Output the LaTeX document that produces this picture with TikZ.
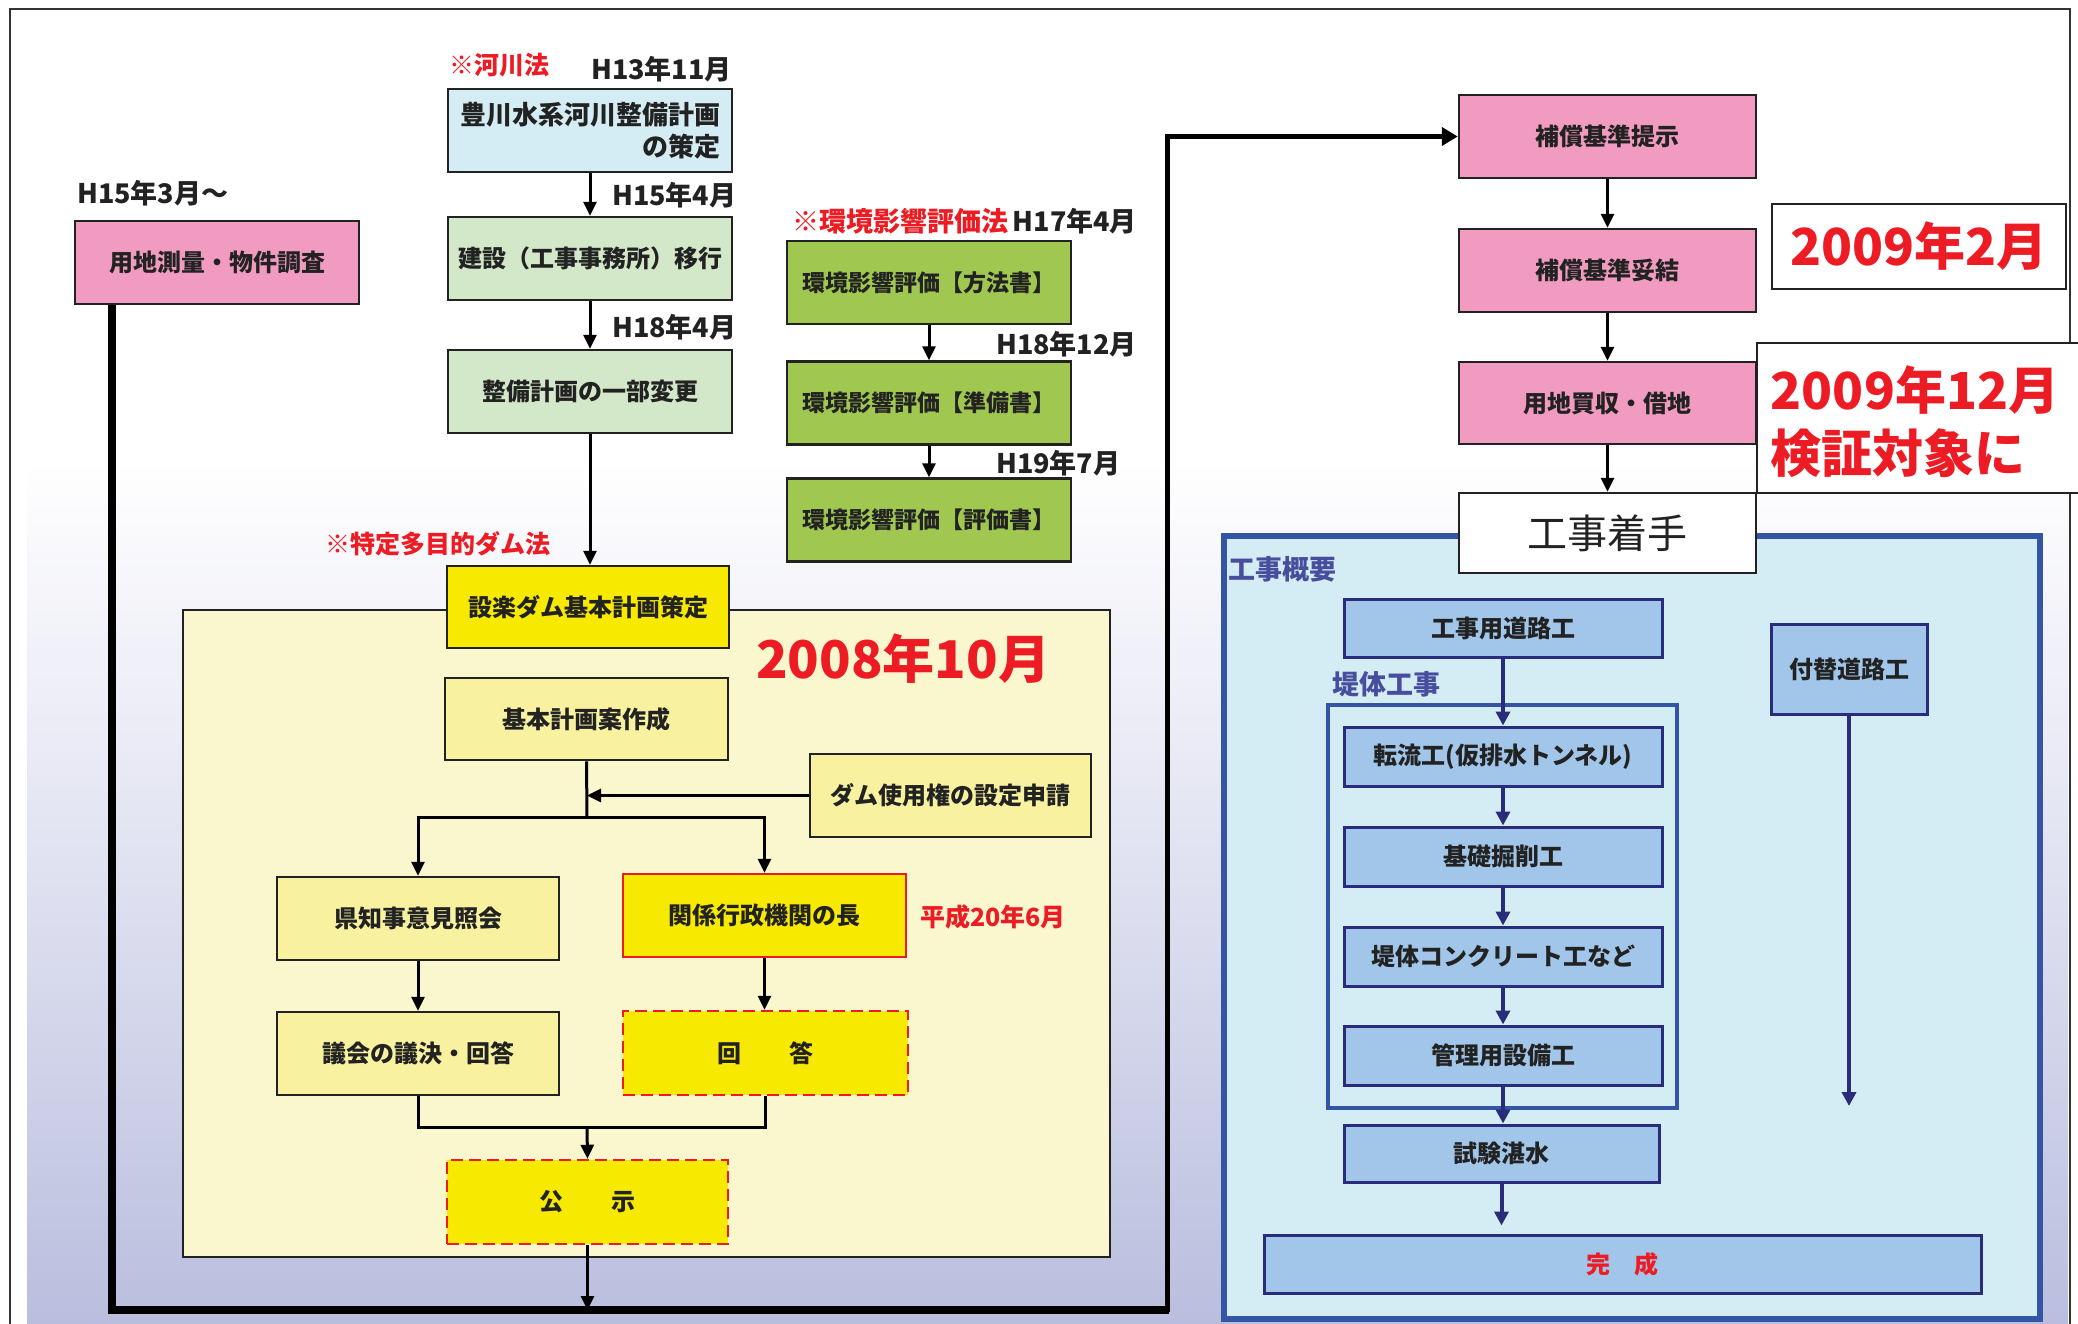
\documentclass[tikz,border=0pt]{standalone}
\usepackage{fontspec}
\setmainfont{Noto Sans CJK JP}
\usetikzlibrary{arrows.meta,calc}
\definecolor{pinkf}{RGB}{241,155,193}
\definecolor{ltblue}{RGB}{212,237,245}
\definecolor{ltgreen}{RGB}{211,232,200}
\definecolor{envgreen}{RGB}{160,200,80}
\definecolor{bigyellow}{RGB}{250,247,206}
\definecolor{paleyellow}{RGB}{248,242,160}
\definecolor{brightyellow}{RGB}{247,234,0}
\definecolor{boxbluebg}{RGB}{212,236,243}
\definecolor{frameblue}{RGB}{52,84,164}
\definecolor{taskblue}{RGB}{161,198,233}
\definecolor{navyc}{RGB}{40,44,122}
\definecolor{labelblue}{RGB}{72,78,158}
\definecolor{redc}{RGB}{237,28,36}
\definecolor{txt}{RGB}{34,34,34}
\definecolor{lav}{RGB}{186,190,222}
\definecolor{lavmid}{RGB}{222,224,240}
\begin{document}
\begin{tikzpicture}[x=1pt,y=-1pt,
  box/.style={draw=txt, line width=2.5pt, inner sep=0pt, align=center, text=txt,
    font=\bfseries\fontsize{24}{30}\selectfont},
  bluebox/.style={draw=navyc, line width=3pt, fill=taskblue, inner sep=0pt, align=center, text=txt,
    font=\bfseries\fontsize{24}{30}\selectfont, minimum width=318pt, minimum height=59pt},
  redbox/.style={box, draw=redc, line width=2.5pt},
  dashbox/.style={box, draw=redc, dash pattern=on 12pt off 6pt},
  datebox/.style={draw=txt, line width=2pt, fill=white, inner sep=0pt, text=redc, align=center,
    font=\bfseries\fontsize{51}{63}\selectfont},
  lbl/.style={inner sep=0pt, text=txt, font=\bfseries\fontsize{27}{30}\selectfont},
  redlbl/.style={inner sep=0pt, text=redc, font=\bfseries\fontsize{25}{30}\selectfont},
  bluelbl/.style={inner sep=0pt, text=labelblue, font=\bfseries\fontsize{27}{30}\selectfont},
  ln/.style={draw=black, line width=3pt},
  arr/.style={ln, -{Triangle[length=14pt,width=13pt]}},
  barr/.style={draw=navyc, line width=4pt, -{Triangle[length=14pt,width=14pt]}}
]
\useasboundingbox (0,0) rectangle (2078,1323);
\clip (0,0) rectangle (2078,1323);
\fill[white] (0,0) rectangle (2078,1323);
% water-like background
\shade[top color=white, bottom color=lav, middle color=lavmid] (27,460) rectangle (2068,1323);
% outer frame
\draw[draw=black!80, line width=2pt] (10,1340) -- (10,9) -- (2070,9) -- (2070,1340);

% ===== left column =====
\node[redlbl, anchor=west] (kasenlaw) at (449,65) {※河川法};
\node[lbl, anchor=east] (h1311) at (732,69) {H13年11月};
\node[box, fill=ltblue, minimum width=284pt, minimum height=83pt, align=right,
  font=\bfseries\fontsize{26}{32}\selectfont] (kasen) at (590,130.5) {豊川水系河川整備計画\\の策定};
\node[lbl, anchor=west] (h1504) at (612,195) {H15年4月};
\node[box, fill=ltgreen, minimum width=284pt, minimum height=83pt] (kensetsu) at (590,258.5) {建設（工事事務所）移行};
\node[lbl, anchor=west] (h1804) at (612,327) {H18年4月};
\node[box, fill=ltgreen, minimum width=284pt, minimum height=83pt] (henkou) at (590,391.5) {整備計画の一部変更};
\node[redlbl, anchor=east] (damlaw) at (551,544) {※特定多目的ダム法};

\node[lbl, anchor=west] (h1503) at (77,193) {H15年3月～};
\node[box, fill=pinkf, minimum width=284pt, minimum height=83pt] (youchi) at (217,262.5) {用地測量・物件調査};

% environment column
\node[lbl, anchor=west] (envlaw) at (792,221) {\textcolor{redc}{※環境影響評価法}\,H17年4月};
\node[box, fill=envgreen, minimum width=284pt, minimum height=83pt, font=\bfseries\fontsize{23}{28}\selectfont] (env1) at (929,282.5) {環境影響評価【方法書】};
\node[lbl, anchor=west] (h1812) at (996,344) {H18年12月};
\node[box, fill=envgreen, minimum width=284pt, minimum height=83pt, font=\bfseries\fontsize{23}{28}\selectfont] (env2) at (929,403) {環境影響評価【準備書】};
\node[lbl, anchor=west] (h1907) at (996,463) {H19年7月};
\node[box, fill=envgreen, minimum width=284pt, minimum height=83pt, font=\bfseries\fontsize{23}{28}\selectfont] (env3) at (929,520) {環境影響評価【評価書】};

% big yellow area
\node[draw=txt, line width=2pt, fill=bigyellow, minimum width=927pt, minimum height=647pt, inner sep=0pt] (bigY) at (646.5,933.5) {};
\node[box, fill=brightyellow, minimum width=282pt, minimum height=82pt] (shitara) at (588,607) {設楽ダム基本計画策定};
\node[inner sep=0pt, text=redc, font=\bfseries\fontsize{52}{60}\selectfont] (d200810) at (903,659) {2008年10月};
\node[box, fill=paleyellow, minimum width=283pt, minimum height=82pt] (kihon) at (586.5,719) {基本計画案作成};
\node[box, fill=paleyellow, minimum width=281pt, minimum height=83pt] (shinsei) at (950.5,795.5) {ダム使用権の設定申請};
\node[box, fill=paleyellow, minimum width=282pt, minimum height=83pt] (kenchiji) at (418,918.5) {県知事意見照会};
\node[redbox, fill=brightyellow, minimum width=283pt, minimum height=83pt] (kankei) at (764.5,915.5) {関係行政機関の長};
\node[redlbl, anchor=west] (h2006) at (920,917) {平成20年6月};
\node[box, fill=paleyellow, minimum width=282pt, minimum height=83pt] (gikai) at (418,1053.5) {議会の議決・回答};
\node[dashbox, fill=brightyellow, minimum width=285pt, minimum height=84pt] (kaitou) at (765.5,1053) {回　　答};
\node[dashbox, fill=brightyellow, minimum width=281pt, minimum height=84pt] (koji) at (587.5,1202) {公　　示};

% ===== right column =====
\node[box, fill=pinkf, minimum width=297pt, minimum height=83pt] (hosho1) at (1607.5,136.5) {補償基準提示};
\node[box, fill=pinkf, minimum width=297pt, minimum height=83pt] (hosho2) at (1607.5,270.5) {補償基準妥結};
\node[datebox, minimum width=294pt, minimum height=85pt] (d200902) at (1919,246.5) {2009年2月};
\node[box, fill=pinkf, minimum width=297pt, minimum height=82pt] (baishu) at (1607.5,403) {用地買収・借地};
\node[datebox, minimum width=333pt, minimum height=150pt] (d200912box) at (1923.5,418) {};
\node[inner sep=0pt, text=redc, align=left, font=\bfseries\fontsize{51}{63}\selectfont] (d200912) at (1915,422) {2009年12月\\検証対象に};

% construction outline
\node[draw=frameblue, line width=6pt, fill=boxbluebg, minimum width=816pt, minimum height=783pt, inner sep=0pt] (blueBig) at (1632,927.5) {};
\node[box, fill=white, minimum width=297pt, minimum height=80pt, font=\fontsize{40}{44}\selectfont] (chakushu) at (1607.5,533) {工事着手};
\node[bluelbl, anchor=west] (gaiyou) at (1228,569) {工事概要};
\node[bluebox, minimum height=58pt] (douro) at (1503,628) {工事用道路工};
\node[bluelbl, anchor=west] (teitailbl) at (1332,684) {堤体工事};
\node[draw=frameblue, line width=4pt, minimum width=349pt, minimum height=403pt, inner sep=0pt] (teitai) at (1502.5,906.5) {};
\node[bluebox] (tenryu) at (1503,756.5) {転流工(仮排水トンネル)};
\node[bluebox] (kiso) at (1503,856.5) {基礎掘削工};
\node[bluebox] (concrete) at (1503,956.5) {堤体コンクリート工など};
\node[bluebox] (kanri) at (1503,1055.5) {管理用設備工};
\node[bluebox, minimum width=315pt, minimum height=57pt] (tansui) at (1501.5,1153.5) {試験湛水};
\node[bluebox, minimum width=717pt, minimum height=58pt, text=redc] (kansei) at (1622.5,1264) {完　成};
\node[bluebox, minimum width=156pt, minimum height=90pt] (tsukekae) at (1849,669) {付替道路工};
\coordinate (tsend) at (1849,1106);

% ===== connectors =====
\draw[arr] (kasen.south) -- (kensetsu.north);
\draw[arr] (kensetsu.south) -- (henkou.north);
\draw[arr] (henkou.south) -- (henkou.south |- shitara.north);
\draw[arr] (env1.south) -- (env2.north);
\draw[arr] (env2.south) -- (env3.north);

\coordinate (br) at (587,817);
\draw[ln] (kihon.south) -- (br);
\draw[arr] (shinsei.west) -- (shinsei.west -| br);
\draw[arr] (br) -| (kenchiji.north);
\draw[arr] (br) -| (kankei.north);
\draw[arr] (kenchiji.south) -- (gikai.north);
\draw[arr] (kankei.south) -- (kankei.south |- kaitou.north);
\coordinate (mg) at (587,1127);
\draw[ln] (gikai.south) |- (mg);
\draw[ln] (kaitou.south) |- (mg);
\draw[arr] (mg) -- (koji.north);

\coordinate (bl) at (112,1310);
\coordinate (brt) at (1167,1310);
\draw[arr] (koji.south) -- (koji.south |- bl);
\draw[draw=black, line width=8pt] (bl |- youchi.south) -- (bl) -- ([xshift=2pt]brt);
\draw[draw=black, line width=5pt, -{Triangle[length=16pt,width=18pt]}] ([yshift=-2pt]brt) -- (brt |- hosho1.west) -- (hosho1.west);

\draw[arr] (hosho1.south) -- (hosho2.north);
\draw[arr] (hosho2.south) -- (baishu.north);
\draw[arr] (baishu.south) -- (chakushu.north);

\draw[barr] (douro.south) -- (tenryu.north);
\draw[barr] (tenryu.south) -- (kiso.north);
\draw[barr] (kiso.south) -- (concrete.north);
\draw[barr] (concrete.south) -- (kanri.north);
\draw[barr] (kanri.south) -- (kanri.south |- tansui.north);
\draw[barr, shorten >=8pt] (tansui.south) -- (tansui.south |- kansei.north);
\draw[barr] (tsukekae.south) -- (tsend);
\end{tikzpicture}
\end{document}
